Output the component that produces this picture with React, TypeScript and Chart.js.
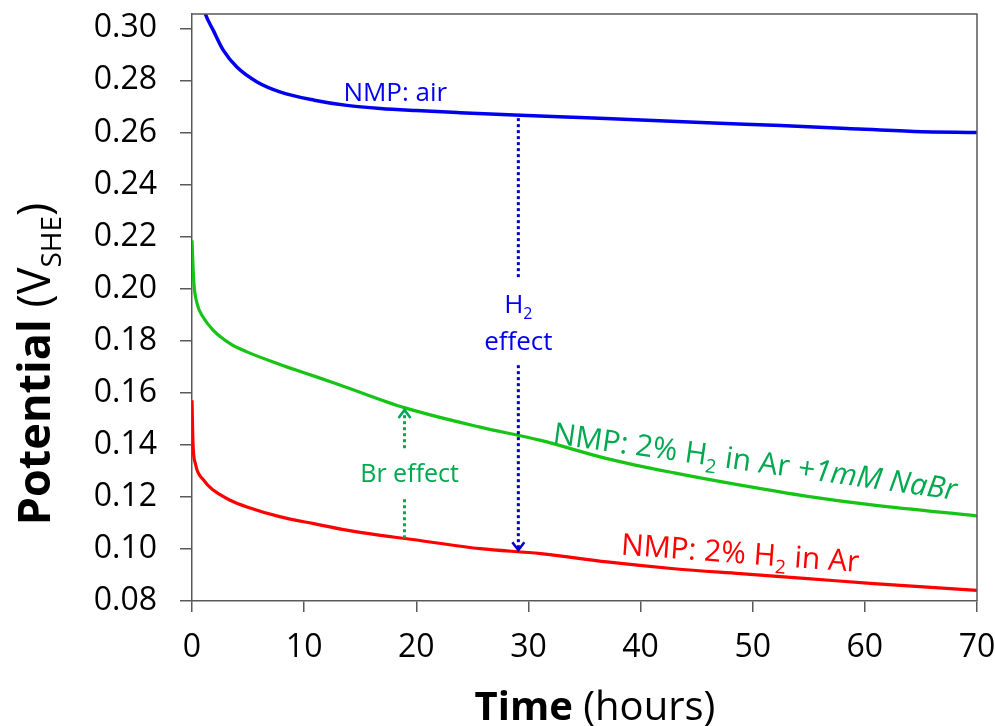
import React, { useEffect, useRef } from 'react';
import { Chart, registerables } from 'chart.js';

Chart.register(...registerables);

// ---- data (hours, V vs SHE) ----
const airTime = [0, 0.5, 1.2, 1.9, 2.8, 4.0, 5.8, 7.9, 10.9, 13.8, 16.8, 20, 23.9, 29.3, 34.6, 40.6, 46.5, 52.5, 58.4, 64.4, 70];
const airPotential = [0.332, 0.316, 0.3054, 0.2992, 0.2915, 0.2851, 0.2794, 0.2755, 0.2724, 0.2704, 0.2692, 0.2684, 0.2676, 0.2666, 0.2657, 0.2647, 0.2636, 0.2627, 0.2615, 0.2604, 0.2600];

const brTime = [0, 0.15, 0.45, 1.0, 1.9, 3.4, 4.9, 7.9, 10.0, 13.0, 19.0, 25.7, 31.1, 37.0, 43.0, 48.9, 54.9, 60.8, 70];
const brPotential = [0.2186, 0.2032, 0.1943, 0.189, 0.184, 0.1789, 0.1757, 0.1708, 0.1677, 0.1633, 0.1542, 0.1468, 0.1417, 0.1347, 0.1292, 0.1245, 0.1202, 0.1168, 0.1127];

const h2Time = [0, 0.09, 0.3, 1.04, 1.93, 3.4, 4.9, 7.9, 10.85, 13.8, 16.8, 19.0, 25.7, 31.1, 37.0, 43.0, 48.9, 54.9, 60.8, 70];
const h2Potential = [0.1571, 0.1405, 0.1328, 0.1264, 0.1225, 0.1187, 0.1161, 0.1123, 0.1097, 0.1072, 0.1052, 0.104, 0.1001, 0.0982, 0.095, 0.0924, 0.0905, 0.0886, 0.0867, 0.0841];

const xTickValues = [0, 10, 20, 30, 40, 50, 60, 70];
const yTickValues = [0.08, 0.10, 0.12, 0.14, 0.16, 0.18, 0.20, 0.22, 0.24, 0.26, 0.28, 0.30];

const FONT = '"Open Sans", "Liberation Sans", sans-serif';
const AXIS_GRAY = '#595959';
const BLUE = '#0000EE';
const GREEN_LINE = '#16C416';
const GREEN_TEXT = '#00A850';
const RED = '#FF0000';

type Part = { t: string; bold?: boolean; italic?: boolean; sub?: boolean };

function drawRich(
  ctx: CanvasRenderingContext2D,
  parts: Part[],
  x: number,
  y: number,
  angle: number,
  size: number,
  color: string,
  align: 'left' | 'center',
  subRatio = 0.62
) {
  ctx.save();
  ctx.translate(x, y);
  ctx.rotate(angle);
  ctx.fillStyle = color;
  ctx.textBaseline = 'alphabetic';
  ctx.textAlign = 'left';
  const fontFor = (p: Part) =>
    `${p.italic ? 'italic ' : ''}${p.bold ? 'bold ' : ''}${p.sub ? Math.round(size * subRatio) : size}px ${FONT}`;
  let total = 0;
  for (const p of parts) {
    ctx.font = fontFor(p);
    total += ctx.measureText(p.t).width;
  }
  let cx = align === 'center' ? -total / 2 : 0;
  for (const p of parts) {
    ctx.font = fontFor(p);
    ctx.fillText(p.t, cx, p.sub ? size * 0.24 : 0);
    cx += ctx.measureText(p.t).width;
  }
  ctx.restore();
}

function dotted(ctx: CanvasRenderingContext2D, x: number, y1: number, y2: number, color: string) {
  ctx.save();
  ctx.strokeStyle = color;
  ctx.lineWidth = 3;
  ctx.setLineDash([3, 3]);
  ctx.beginPath();
  ctx.moveTo(x, y1);
  ctx.lineTo(x, y2);
  ctx.stroke();
  ctx.restore();
}

function head(ctx: CanvasRenderingContext2D, x: number, y: number, dir: number, color: string) {
  ctx.save();
  ctx.strokeStyle = color;
  ctx.lineWidth = 2.5;
  ctx.setLineDash([]);
  ctx.beginPath();
  ctx.moveTo(x - 6, y - dir * 8);
  ctx.lineTo(x, y);
  ctx.lineTo(x + 6, y - dir * 8);
  ctx.stroke();
  ctx.restore();
}

const decorPlugin = {
  id: 'decor',
  afterDraw(chart: any) {
    const ctx: CanvasRenderingContext2D = chart.ctx;
    const xs = chart.scales.x;
    const ys = chart.scales.y;
    const ca = chart.chartArea;
    const px = (t: number) => xs.getPixelForValue(t);
    const py = (v: number) => ys.getPixelForValue(v);

    // top & right frame lines
    ctx.save();
    ctx.strokeStyle = AXIS_GRAY;
    ctx.lineWidth = 1.5;
    ctx.beginPath();
    ctx.moveTo(ca.left, ca.top);
    ctx.lineTo(ca.right, ca.top);
    ctx.lineTo(ca.right, ca.bottom);
    ctx.stroke();
    ctx.restore();

    // H2 effect arrow
    const hx = px(29.1);
    dotted(ctx, hx, py(0.2655), py(0.2035), '#0000CC');
    dotted(ctx, hx, py(0.1706), py(0.0995), '#0000CC');
    head(ctx, hx, py(0.0995), 1, '#0000CC');
    drawRich(ctx, [{ t: 'H' }, { t: '2', sub: true }], hx, py(0.1908), 0, 26, BLUE, 'center');
    drawRich(ctx, [{ t: 'effect' }], hx, py(0.1763), 0, 26, BLUE, 'center');

    // Br effect arrow
    const bx = px(18.95);
    dotted(ctx, bx, py(0.1041), py(0.1195), GREEN_TEXT);
    dotted(ctx, bx, py(0.1387), py(0.1534), GREEN_TEXT);
    head(ctx, bx, py(0.1534), -1, GREEN_TEXT);
    drawRich(ctx, [{ t: 'Br effect' }], px(19.4), py(0.1256), 0, 25, GREEN_TEXT, 'center');

    // series labels
    drawRich(ctx, [{ t: 'NMP: air' }], px(13.5), py(0.2719), 0, 26, BLUE, 'left');
    drawRich(
      ctx,
      [{ t: 'NMP: 2% H' }, { t: '2', sub: true }, { t: ' in Ar ' }, { t: '+1mM NaBr', italic: true }],
      px(32.1), py(0.1406), (8 * Math.PI) / 180, 30, GREEN_TEXT, 'left'
    );
    drawRich(
      ctx,
      [{ t: 'NMP: 2% H' }, { t: '2', sub: true }, { t: ' in Ar' }],
      px(38.2), py(0.0979), (4.2 * Math.PI) / 180, 30, RED, 'left'
    );

    // axis titles
    drawRich(ctx, [{ t: 'Time', bold: true }, { t: ' (hours)' }], 595, 720, 0, 40, '#000', 'center');
    drawRich(
      ctx,
      [{ t: 'Potential', bold: true }, { t: ' (V' }, { t: 'SHE', sub: true }, { t: ')' }],
      50, 364, -Math.PI / 2, 45, '#000', 'center'
    );
  },
};

const zeroPad = (s: any) => {
  s.paddingTop = 0;
  s.paddingBottom = 0;
  s.paddingLeft = 0;
  s.paddingRight = 0;
};

export default function App() {
  const ref = useRef<HTMLCanvasElement | null>(null);

  useEffect(() => {
    if (!ref.current) return;
    const mk = (t: number[], v: number[]) => t.map((x, i) => ({ x, y: v[i] }));
    const chart = new Chart(ref.current, {
      type: 'line',
      data: {
        datasets: [
          { label: 'NMP: air', data: mk(airTime, airPotential), borderColor: BLUE, borderWidth: 3.5 },
          { label: 'NMP: 2% H2 in Ar +1mM NaBr', data: mk(brTime, brPotential), borderColor: GREEN_LINE, borderWidth: 3.2 },
          { label: 'NMP: 2% H2 in Ar', data: mk(h2Time, h2Potential), borderColor: RED, borderWidth: 3.2 },
        ],
      },
      options: {
        responsive: false,
        animation: false,
        events: [],
        layout: { padding: { left: 0, top: 14, right: 18, bottom: 0 }, autoPadding: false },
        elements: {
          point: { radius: 0 },
          line: { cubicInterpolationMode: 'monotone', fill: false },
        },
        plugins: { legend: { display: false }, tooltip: { enabled: false }, title: { display: false } },
        scales: {
          x: {
            type: 'linear',
            min: 0,
            max: 70,
            afterBuildTicks: (s: any) => { s.ticks = xTickValues.map((v) => ({ value: v })); },
            afterFit: (s: any) => { s.height = 125; zeroPad(s); },
            grid: { drawOnChartArea: false, drawTicks: true, tickLength: 11, color: AXIS_GRAY, lineWidth: 1.5 },
            border: { display: true, color: AXIS_GRAY, width: 1.5 },
            ticks: {
              padding: 17,
              color: '#000',
              font: { family: FONT, size: 32 },
              maxRotation: 0,
              autoSkip: false,
              callback: (v: any) => String(v),
            },
          },
          y: {
            type: 'linear',
            min: 0.08,
            max: 0.3055,
            afterBuildTicks: (s: any) => { s.ticks = yTickValues.map((v) => ({ value: v })); },
            afterFit: (s: any) => { s.width = 192; zeroPad(s); },
            grid: { drawOnChartArea: false, drawTicks: true, tickLength: 12, color: AXIS_GRAY, lineWidth: 1.5 },
            border: { display: true, color: AXIS_GRAY, width: 1.5 },
            ticks: {
              padding: 23,
              color: '#000',
              font: { family: FONT, size: 32 },
              autoSkip: false,
              callback: (v: any) => Number(v).toFixed(2),
            },
          },
        },
      },
      plugins: [decorPlugin],
    } as any);
    return () => chart.destroy();
  }, []);

  return (
    <div style={{ position: 'absolute', left: 0, top: 0, width: 995, height: 726, background: '#fff' }}>
      <canvas ref={ref} width={995} height={726} style={{ display: 'block' }} />
    </div>
  );
}
